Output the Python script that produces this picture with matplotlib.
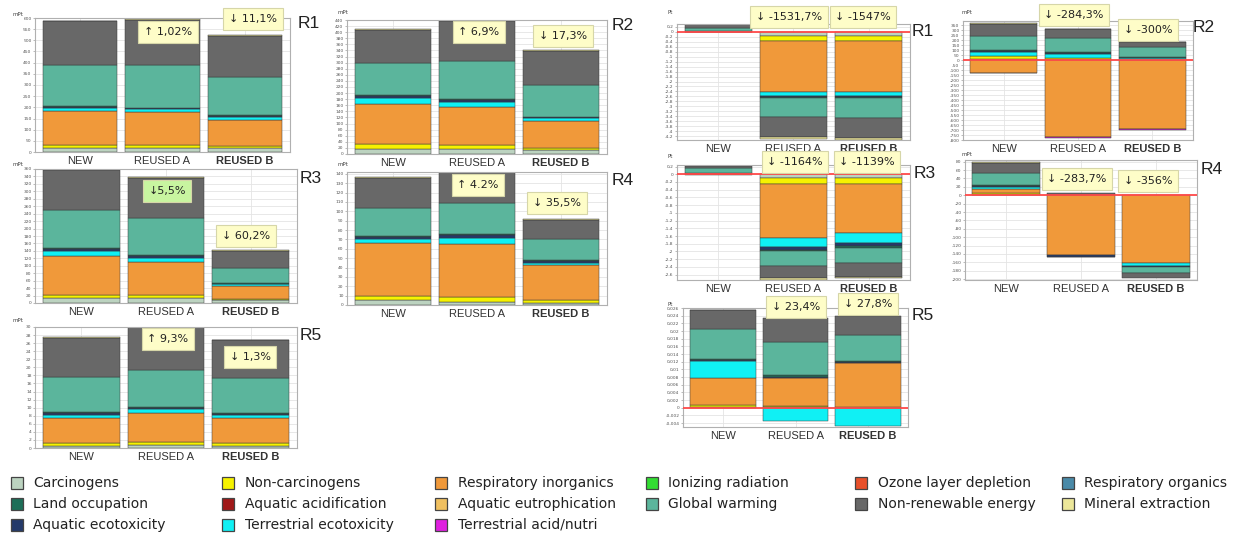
import matplotlib
matplotlib.use("Agg")
import matplotlib.pyplot as plt
from matplotlib.patches import Rectangle
from matplotlib.ticker import MultipleLocator, FuncFormatter

W, H = 1244, 538

scenarios = ["NEW", "REUSED A", "REUSED B"]

# stacking order of the impact categories (bottom to top / zero outward)
categories = ["Carcinogens", "Non-carcinogens", "Respiratory inorganics",
              "Ozone layer depletion", "Terrestrial ecotoxicity",
              "Aquatic ecotoxicity", "Land occupation", "Terrestrial acid/nutri",
              "Global warming", "Non-renewable energy", "Mineral extraction"]

# one row per scenario (NEW, REUSED A, REUSED B), one column per category
L_R1 = [[20, 12, 150, 0, 14, 5, 3, 0, 185, 196, 3],
        [20, 12, 146, 0, 13, 5, 3, 0, 190, 203, 3],
        [18, 10, 117, 0, 10, 6, 3, 0, 170, 187, 2]]
L_R2 = [[15, 18, 131, 0, 20, 6, 5, 0, 104, 108, 4],
        [15, 16, 123, 0, 17, 5, 4, 0, 127, 130, 3],
        [12, 9, 86, 0, 11, 3, 2, 0, 105, 110, 2]]
L_R3 = [[13, 9, 104, 0, 14, 4, 4, 0, 101, 107, 2],
        [13, 9, 89, 0, 11, 4, 3, 0, 99, 108, 2],
        [7, 5, 33, 0, 5, 2, 2, 0, 41, 46, 1]]
L_R4 = [[5, 4.5, 56.5, 0, 5, 2, 1, 0, 30, 32, 0.5],
        [3.5, 5, 56.5, 0, 7, 2.5, 1.5, 0, 33, 32.5, 0.5],
        [2.5, 3, 37.5, 0, 2, 2, 1, 0, 22, 21, 0.5]]
L_R5 = [[0.6, 0.6, 6.3, 0, 0.8, 0.4, 0.2, 0, 8.6, 9.8, 0.1],
        [0.8, 0.7, 7.25, 0, 0.85, 0.4, 0.2, 0, 9.2, 10.5, 0.1],
        [0.6, 0.65, 6.25, 0, 0.7, 0.35, 0.2, 0, 8.5, 9.45, 0.1]]

R_R1 = [[0.005, 0.005, -0.01, 0, 0.01, 0.005, 0.005, 0, 0.12, 0.15, 0.005],
        [-0.17, -0.2, -2.04, 0, -0.16, -0.06, -0.04, 0, -0.78, -0.8, -0.05],
        [-0.17, -0.2, -2.05, 0, -0.16, -0.06, -0.04, 0, -0.8, -0.81, -0.05]]
R_R2 = [[8, 30, -125, 0, 45, 10, 6, -5, 145, 120, 10],
        [5, 20, -770, 0, 40, 10, 7, -12, 137, 90, 3],
        [2, 3, -690, 0, 17, 5, 3, -8, 105, 50, 2]]
R_R3 = [[0.005, 0.005, 0.01, -0.03, 0.005, 0.01, 0.01, 0, 0.11, 0.07, 0.005],
        [-0.09, -0.16, -1.41, 0, -0.23, -0.06, -0.05, 0, -0.37, -0.33, -0.03],
        [-0.09, -0.16, -1.28, 0, -0.26, -0.07, -0.06, 0, -0.37, -0.36, -0.04]]
R_R4 = [[1.6, 4.8, 8, 0, 6.4, 1.6, 1.6, 0, 28, 25.6, 2.4],
        [0, 0, -142, 0, 0, -4, 1.6, 0, -1.6, 4, 0],
        [0, 0, -162, 0, -5.6, -4, 0, 0, -14.4, -12, 0]]
R_R5 = [[0.0003, 0.0004, 0.0071, 0, 0.0043, 0.0003, 0.0003, 0, 0.0077, 0.0051, 0.0001],
        [0.0003, 0.0002, 0.0073, 0, -0.0035, 0.0003, 0.0004, 0, 0.0087, 0.0061, 0],
        [0.0002, 0.0001, 0.0113, 0, -0.0047, 0.0003, 0.0003, 0, 0.0068, 0.0048, 0]]

# change relative to NEW for REUSED A and REUSED B
L_R1_change = ["\u2191 1,02%", "\u2193 11,1%"]
L_R2_change = ["\u2191 6,9%", "\u2193 17,3%"]
L_R3_change = ["\u21935,5%", "\u2193 60,2%"]
L_R4_change = ["\u2191 4.2%", "\u2193 35,5%"]
L_R5_change = ["\u2191 9,3%", "\u2193 1,3%"]
R_R1_change = ["\u2193 -1531,7%", "\u2193 -1547%"]
R_R2_change = ["\u2193 -284,3%", "\u2193 -300%"]
R_R3_change = ["\u2193 -1164%", "\u2193 -1139%"]
R_R4_change = ["\u2193 -283,7%", "\u2193 -356%"]
R_R5_change = ["\u2193 23,4%", "\u2193 27,8%"]

colors = {
    "Carcinogens": "#bcd3c0",
    "Non-carcinogens": "#f6f200",
    "Respiratory inorganics": "#f0993a",
    "Ozone layer depletion": "#e8502a",
    "Terrestrial ecotoxicity": "#10f0f4",
    "Aquatic ecotoxicity": "#243a6a",
    "Land occupation": "#1d6e58",
    "Terrestrial acid/nutri": "#e020e0",
    "Global warming": "#5bb59c",
    "Non-renewable energy": "#686868",
    "Mineral extraction": "#ece79a",
    "Aquatic acidification": "#a01818",
    "Aquatic eutrophication": "#f0c060",
    "Ionizing radiation": "#33dd33",
    "Respiratory organics": "#4a8aa8",
}

# legend order (column by column)
legend_cols = [
    ["Carcinogens", "Land occupation", "Aquatic ecotoxicity"],
    ["Non-carcinogens", "Aquatic acidification", "Terrestrial ecotoxicity"],
    ["Respiratory inorganics", "Aquatic eutrophication", "Terrestrial acid/nutri"],
    ["Ionizing radiation", "Global warming"],
    ["Ozone layer depletion", "Non-renewable energy"],
    ["Respiratory organics", "Mineral extraction"],
]

SANS = ["Liberation Sans", "DejaVu Sans"]

fig = plt.figure(figsize=(W / 100, H / 100), dpi=100)


def fx(x):
    return x / W


def fy(y):
    return 1 - y / H


def comma(v, _pos=None):
    s = f"{v:.6f}".rstrip("0").rstrip(".")
    if s in ("-0", ""):
        s = "0"
    return s.replace(".", ",")


# panel: data, axes box (left, top, right, bottom in px), ylim, tick step, unit,
#        unit position, region tag, tag position, change labels, box centres,
#        box colours, zero line
panels = [
    (L_R1, (35, 18, 290, 152), (0, 600), 50, "mPt", (12, 14), "R1", (309, 24),
     L_R1_change, [(168, 32), (253, 19)], ["#fefdc8", "#fefdc8"], False),
    (L_R2, (347, 20, 607, 154), (0, 440), 20, "mPt", (337, 13), "R2", (623, 25),
     L_R2_change, [(479, 32), (563, 36)], ["#fefdc8", "#fefdc8"], False),
    (L_R3, (35, 169, 297, 303), (0, 360), 20, "mPt", (12, 165), "R3", (311, 178),
     L_R3_change, [(167, 191), (246, 236)], ["#c8f5a0", "#fefdc8"], False),
    (L_R4, (347, 172, 607, 305), (0, 142), 10, "mPt", (338, 164), "R4", (623, 181),
     L_R4_change, [(478, 185), (557, 203)], ["#fefdc8", "#fefdc8"], False),
    (L_R5, (35, 327, 297, 448), (0, 30), 2, "mPt", (12, 320), "R5", (311, 335),
     L_R5_change, [(168, 339), (250, 357)], ["#fefdc8", "#fefdc8"], False),
    (R_R1, (677, 24, 910, 140), (-4.36, 0.32), 0.2, "Pt", (667, 12), "R1", (923, 31),
     R_R1_change, [(789, 17), (863, 17)], ["#fefdc8", "#fefdc8"], True),
    (R_R2, (963, 21, 1193, 140), (-800, 393), 50, "mPt", (962, 13), "R2", (1204, 28),
     R_R2_change, [(1074, 15), (1148, 30)], ["#fefdc8", "#fefdc8"], True),
    (R_R3, (677, 165, 910, 280), (-2.74, 0.24), 0.2, "Pt", (667, 157), "R3", (925, 173),
     R_R3_change, [(795, 162), (867, 162)], ["#fefdc8", "#fefdc8"], True),
    (R_R4, (965, 160, 1197, 280), (-202, 84), 20, "mPt", (962, 155), "R4", (1212, 170),
     R_R4_change, [(1077, 179), (1148, 181)], ["#fefdc8", "#fefdc8"], True),
    (R_R5, (683, 308, 908, 427), (-0.005, 0.026), 0.002, "Pt", (668, 304), "R5", (923, 316),
     R_R5_change, [(796, 307), (868, 304)], ["#fefdc8", "#fefdc8"], True),
]

for (data, box, ylim, step, unit, upos, tag, tpos, changes, cpos, ccol, zero_line) in panels:
    l, t, r, b = box
    ax = fig.add_axes([fx(l), fy(b), (r - l) / W, (b - t) / H])
    ax.set_axisbelow(True)
    for i, row in enumerate(data):
        pos, neg = 0.0, 0.0
        for cat, v in zip(categories, row):
            if v == 0:
                continue
            if v > 0:
                ax.bar(i, v, bottom=pos, width=0.9, color=colors[cat],
                       edgecolor="#3a3a3a", linewidth=0.35)
                pos += v
            else:
                ax.bar(i, v, bottom=neg, width=0.9, color=colors[cat],
                       edgecolor="#3a3a3a", linewidth=0.35)
                neg += v
    ax.set_xlim(-0.55, 2.55)
    ax.set_ylim(*ylim)
    ax.yaxis.set_major_locator(MultipleLocator(step))
    ax.yaxis.set_major_formatter(FuncFormatter(comma))
    ax.tick_params(axis="y", labelsize=3.2, labelcolor="#555555", length=1.5,
                   width=0.4, color="#888888", pad=1)
    ax.set_xticks(range(3))
    ax.set_xticklabels(scenarios, fontsize=8, family=SANS, color="#333333")
    ax.get_xticklabels()[2].set_fontweight("bold")
    ax.tick_params(axis="x", length=0, pad=3)
    ax.grid(True, color="#e4e4e4", linewidth=0.6)
    for s in ax.spines.values():
        s.set_color("#b0b0b0")
        s.set_linewidth(0.8)
    if zero_line:
        ax.axhline(0, color="#ff4a4a", linewidth=1.3, zorder=5)

    fig.text(fx(upos[0]), fy(upos[1]), unit, fontsize=4, color="#444444",
             ha="left", va="center")
    fig.text(fx(tpos[0]), fy(tpos[1]), tag, fontsize=12.5, family=SANS,
             color="#222222", ha="center", va="center")
    for txt, (cx, cy), bc in zip(changes, cpos, ccol):
        fig.text(fx(cx), fy(cy), txt, fontsize=8, family="DejaVu Sans",
                 color="#222222", ha="center", va="center", zorder=10,
                 bbox=dict(boxstyle="square,pad=0.5", facecolor=bc,
                           edgecolor="#d6d6a8", linewidth=0.8))

# legend
legend_marker_x = [17, 228, 441, 652, 861, 1068]
legend_text_x = [33, 245, 458, 668, 878, 1084]
legend_row_y = [483, 504, 525]
for col, mx, tx in zip(legend_cols, legend_marker_x, legend_text_x):
    for name, yy in zip(col, legend_row_y):
        fig.patches.append(Rectangle((fx(mx - 6), fy(yy + 6)), 12 / W, 12 / H,
                                     transform=fig.transFigure,
                                     facecolor=colors[name], edgecolor="#444444",
                                     linewidth=0.9))
        fig.text(fx(tx), fy(yy), name, fontsize=10, color="#222222",
                 ha="left", va="center")

fig.savefig("out.png", dpi=100, facecolor="white")
